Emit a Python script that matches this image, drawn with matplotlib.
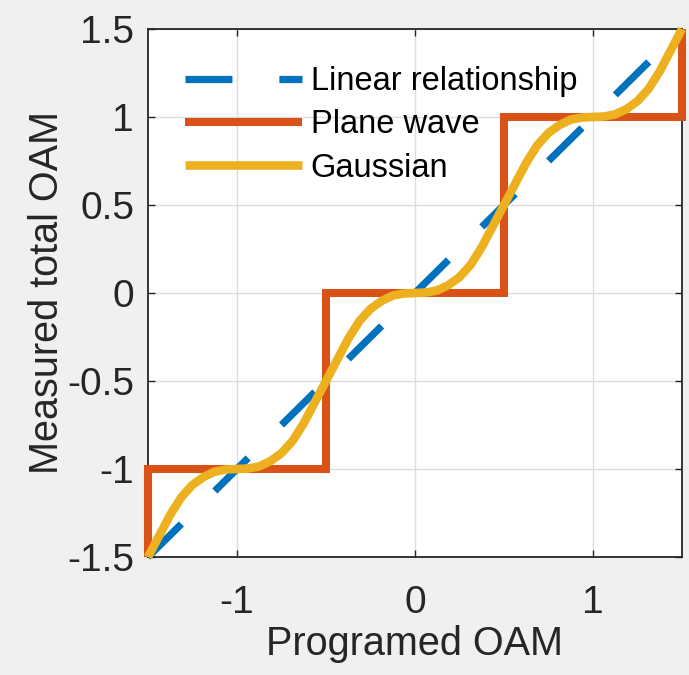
import matplotlib
matplotlib.use("Agg")
import matplotlib.pyplot as plt

# programmed OAM vs measured total OAM
linear_x = [-1.5, 1.5]
linear_y = [-1.5, 1.5]

plane_x = [-1.5, -1.5, -0.5, -0.5, 0.5, 0.5, 1.5, 1.5]
plane_y = [-1.5, -1.0, -1.0, 0.0, 0.0, 1.0, 1.0, 1.5]

gauss_x = [-1.5, -1.4375, -1.375, -1.3125, -1.25, -1.1875, -1.125, -1.0625,
           -1.0, -0.9375, -0.875, -0.8125, -0.75, -0.6875, -0.625, -0.5625,
           -0.5, -0.4375, -0.375, -0.3125, -0.25, -0.1875, -0.125, -0.0625,
           0.0, 0.0625, 0.125, 0.1875, 0.25, 0.3125, 0.375, 0.4375,
           0.5, 0.5625, 0.625, 0.6875, 0.75, 0.8125, 0.875, 0.9375,
           1.0, 1.0625, 1.125, 1.1875, 1.25, 1.3125, 1.375, 1.4375, 1.5]
gauss_y = [-1.5, -1.38, -1.26, -1.16, -1.09, -1.045, -1.015, -1.003,
           -1.0, -0.997, -0.985, -0.955, -0.91, -0.84, -0.74, -0.62,
           -0.5, -0.38, -0.26, -0.16, -0.09, -0.045, -0.015, -0.003,
           0.0, 0.003, 0.015, 0.045, 0.09, 0.16, 0.26, 0.38,
           0.5, 0.62, 0.74, 0.84, 0.91, 0.955, 0.985, 0.997,
           1.0, 1.003, 1.015, 1.045, 1.09, 1.16, 1.26, 1.38, 1.5]

labels = ['Linear relationship', 'Plane wave', 'Gaussian']
xticks = [-1, 0, 1]
yticks = [-1.5, -1, -0.5, 0, 0.5, 1, 1.5]
yticklabels = ['-1.5', '-1', '-0.5', '0', '0.5', '1', '1.5']

plt.rcParams['font.family'] = ['Liberation Sans', 'DejaVu Sans']
fig = plt.figure(figsize=(6.89, 6.75), dpi=100, facecolor='#f0f0f0')
ax = fig.add_axes([148 / 689, 118 / 675, 534 / 689, 528 / 675])
ax.set_facecolor('white')

ax.plot(linear_x, linear_y, color='#0072BD', lw=5.2, dashes=[6.5, 6.5],
        dash_capstyle='butt', clip_on=False, label=labels[0], zorder=3)
ax.plot(plane_x, plane_y, color='#D95319', lw=5.8, solid_joinstyle='miter',
        solid_capstyle='butt', clip_on=False, label=labels[1], zorder=4)
ax.plot(gauss_x, gauss_y, color='#EDB120', lw=6.2, clip_on=False,
        solid_capstyle='butt', solid_joinstyle='round', label=labels[2], zorder=5)

ax.set_xlim(-1.5, 1.5)
ax.set_ylim(-1.5, 1.5)
ax.set_xticks(xticks)
ax.set_xticklabels([str(t) for t in xticks])
ax.set_yticks(yticks)
ax.set_yticklabels(yticklabels)
ax.grid(True, color='#dcdcdc', lw=1.0)
ax.set_axisbelow(True)
for s in ax.spines.values():
    s.set_color('#262626')
    s.set_linewidth(1.3)
ax.tick_params(direction='in', length=5, width=1, colors='#262626',
               labelsize=28, top=True, right=True)
ax.tick_params(axis='x', pad=20)
ax.tick_params(axis='y', pad=10)

ax.set_xlabel('Programed OAM', fontsize=28.5, color='#262626', labelpad=3)
ax.set_ylabel('Measured total OAM', fontsize=28.5, color='#262626', labelpad=1)

ax.legend(loc='upper left', bbox_to_anchor=(0.069, 0.930), frameon=False,
          fontsize=23.5, handlelength=3.6, handletextpad=0.25,
          labelspacing=0.38, borderpad=0, borderaxespad=0)

fig.savefig('out.png', dpi=100, facecolor=fig.get_facecolor())
